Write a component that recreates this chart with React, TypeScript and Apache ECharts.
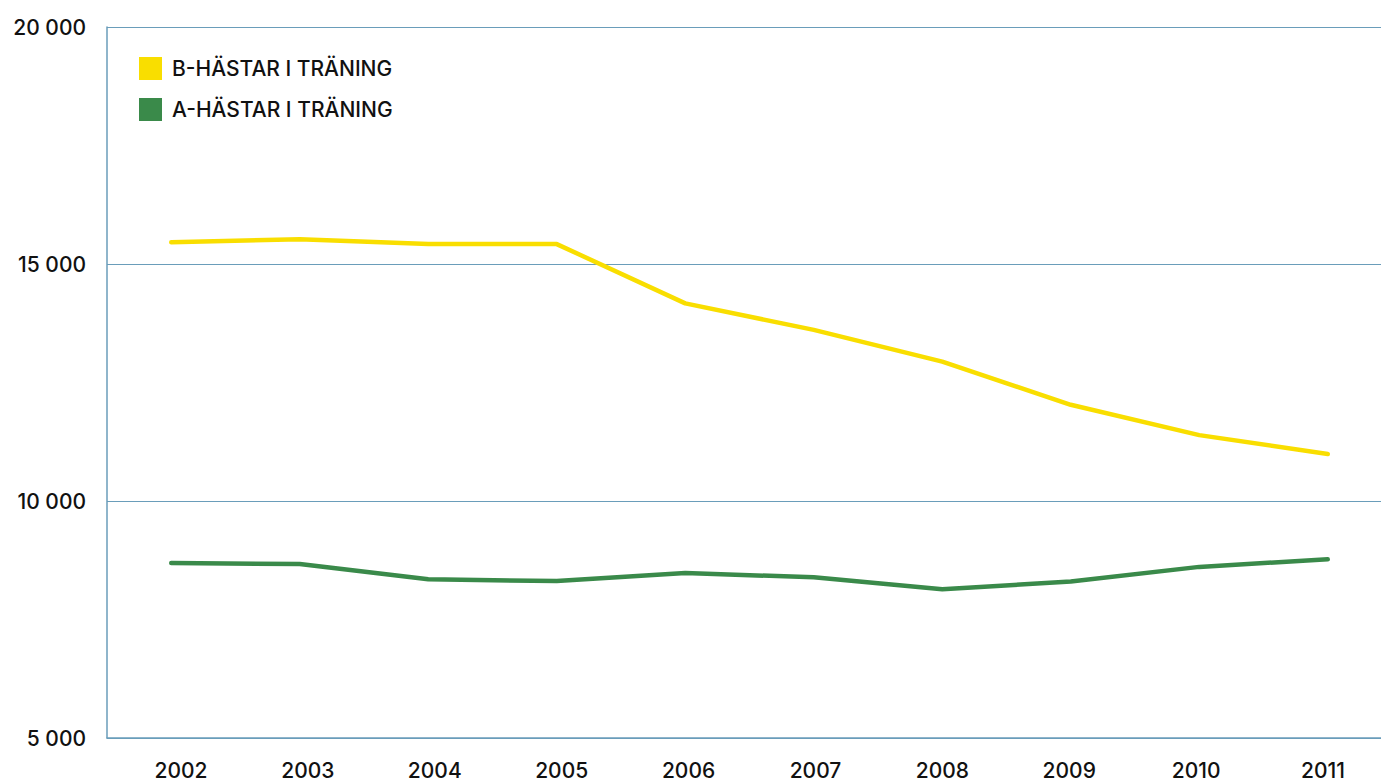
import React, { useEffect, useRef } from "react";
import * as echarts from "echarts";

const years = ["2002", "2003", "2004", "2005", "2006", "2007", "2008", "2009", "2010", "2011"];
const bHorses = [15460, 15520, 15420, 15420, 14170, 13610, 12940, 12030, 11390, 10990];
const aHorses = [8690, 8670, 8350, 8310, 8480, 8390, 8140, 8300, 8610, 8770];
const seriesNames = ["B-HÄSTAR I TRÄNING", "A-HÄSTAR I TRÄNING"];

const YELLOW = "#F9DE00";
const GREEN = "#3A8A4A";
const AXIS = "#6A9DBA";
const FONT = "Inter, 'Noto Sans', sans-serif";

const fmt = (v: number) => String(v).replace(/\B(?=(\d{3})+(?!\d))/g, " ");

export default function App() {
  const ref = useRef<HTMLDivElement>(null);
  useEffect(() => {
    if (!ref.current) return;
    const chart = echarts.init(ref.current, undefined, { renderer: "svg" });
    chart.setOption({
      animation: false,
      backgroundColor: "#ffffff",
      legend: {
        orient: "vertical",
        left: 139,
        top: 57,
        padding: 0,
        itemWidth: 23,
        itemHeight: 23,
        itemGap: 18,
        icon: "rect",
        textStyle: {
          fontFamily: FONT,
          fontSize: 21,
          fontWeight: 500,
          color: "#111",
          padding: [0, 0, 0, 5],
        },
        data: seriesNames,
      },
      grid: [
        { left: 107, top: 27, bottom: 43, right: 8, containLabel: false },
        { left: 117.5, top: 27, bottom: 43, right: 13.5, containLabel: false },
      ],
      xAxis: [
        {
          type: "category",
          gridIndex: 0,
          data: years,
          boundaryGap: true,
          axisLine: { show: true, lineStyle: { color: AXIS, width: 1.5 } },
          axisTick: { show: false },
          axisLabel: { show: false },
          splitLine: { show: false },
        },
        {
          type: "category",
          gridIndex: 1,
          data: years,
          boundaryGap: true,
          axisLine: { show: false },
          axisTick: { show: false },
          axisLabel: {
            show: true,
            margin: 24,
            lineHeight: 18,
            fontFamily: FONT,
            fontSize: 21,
            fontWeight: 500,
            color: "#111",
          },
          splitLine: { show: false },
        },
      ],
      yAxis: [
        {
          type: "value",
          gridIndex: 0,
          min: 5000,
          max: 20000,
          interval: 5000,
          axisLine: { show: true, lineStyle: { color: AXIS, width: 1.5 } },
          axisTick: { show: false },
          splitLine: { show: true, lineStyle: { color: AXIS, width: 1.2 } },
          axisLabel: {
            margin: 21,
            formatter: (v: number) => fmt(v),
            fontFamily: FONT,
            fontSize: 21,
            fontWeight: 500,
            color: "#111",
          },
        },
        {
          type: "value",
          gridIndex: 1,
          min: 5000,
          max: 20000,
          interval: 5000,
          show: false,
        },
      ],
      series: [
        {
          name: seriesNames[0],
          type: "line",
          xAxisIndex: 0,
          yAxisIndex: 0,
          data: bHorses,
          symbol: "none",
          itemStyle: { color: YELLOW },
          lineStyle: { color: YELLOW, width: 4.5, cap: "round", join: "round" },
        },
        {
          name: seriesNames[1],
          type: "line",
          xAxisIndex: 0,
          yAxisIndex: 0,
          data: aHorses,
          symbol: "none",
          itemStyle: { color: GREEN },
          lineStyle: { color: GREEN, width: 4.5, cap: "round", join: "round" },
        },
      ],
    });
    return () => chart.dispose();
  }, []);
  return (
    <div
      style={{ position: "fixed", left: 0, top: 0, width: "1381px", height: "781px", overflow: "hidden" }}
    >
      <div ref={ref} style={{ width: "1400px", height: "781px" }} />
    </div>
  );
}
